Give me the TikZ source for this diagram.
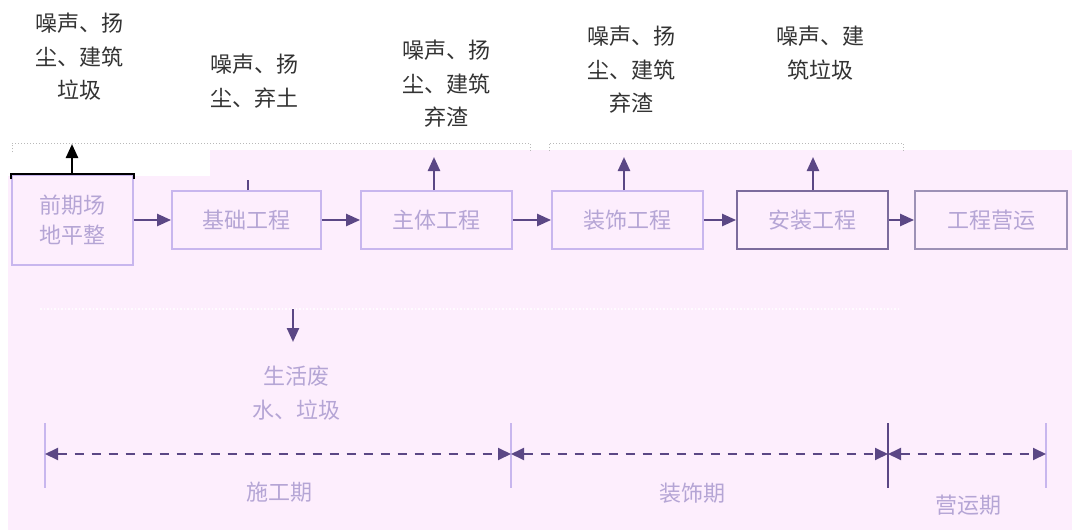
\documentclass[tikz,border=0pt]{standalone}
\usepackage{fontspec}
\newfontfamily\cjk{Noto Sans CJK SC}
\usetikzlibrary{arrows.meta}
\definecolor{bgpink}{HTML}{FDEEFD}
\definecolor{boxline}{HTML}{C8B6EE}
\definecolor{boxtext}{HTML}{B5A5D5}
\definecolor{arr}{HTML}{5B4785}
\definecolor{toptext}{HTML}{333333}
\tikzset{
  procbox/.style={draw=boxline, line width=1.8pt, fill=bgpink, text=boxtext,
    font=\cjk\fontsize{22}{30}\selectfont, align=center, inner sep=0pt, minimum height=58pt},
  flow/.style={draw=arr, line width=2.4pt, -{Triangle[length=14pt,width=12pt]}},
  emis/.style={text=toptext, font=\cjk\fontsize{22}{33.5}\selectfont, align=center, inner sep=0pt},
  periodlbl/.style={text=boxtext, font=\cjk\fontsize{22}{30}\selectfont, inner sep=0pt},
  bracketline/.style={draw=gray!55, dotted, line width=1pt},
  span/.style={draw=arr, line width=1.9pt, dash pattern=on 9pt off 8pt,
    {Triangle[length=13pt,width=12pt]}-{Triangle[length=13pt,width=12pt]}},
  tick/.style={line width=1.8pt}
}
\begin{document}
\begin{tikzpicture}[x=1pt,y=-1pt]
\useasboundingbox (0,0) rectangle (1072,530);
\fill[white] (0,0) rectangle (1072,530);
\fill[bgpink] (8,176) -- (210,176) -- (210,150) -- (1072,150) -- (1072,530) -- (8,530) -- cycle;

% top dotted brackets
\draw[bracketline] (12,152) -- (12,143) -- (530,143) -- (530,152);
\draw[bracketline] (549,151) -- (549,143) -- (903,143) -- (903,151);
% faint lower dotted line
\draw[draw=white!75!bgpink, dotted, line width=1.5pt] (40,309) -- (900,309);

% process boxes
\node[procbox, minimum width=121pt, minimum height=90pt] (b1) at (72.5,220) {前期场\\地平整};
\node[procbox, minimum width=149pt] (b2) at (246.5,220) {基础工程};
\node[procbox, minimum width=151pt] (b3) at (436.5,220) {主体工程};
\node[procbox, minimum width=151pt] (b4) at (627.5,220) {装饰工程};
\node[procbox, minimum width=151pt, draw=arr!80] (b5) at (812.5,220) {安装工程};
\node[procbox, minimum width=152pt, draw=arr!60] (b6) at (991,220) {工程营运};

% black top edge of first box
\draw[black, line width=2pt] ([yshift=-5pt]b1.north west) -- (b1.north west) -- (b1.north east) -- ([yshift=-5pt]b1.north east);

% flow arrows
\draw[flow] (b1.east) -- (b2.west);
\draw[flow] (b2.east) -- (b3.west);
\draw[flow] (b3.east) -- (b4.west);
\draw[flow] (b4.east) -- (b5.west);
\draw[flow] (b5.east) -- (b6.west);

% emission arrows
\coordinate (u1) at (72,144);
\coordinate (u2) at (248,180);
\coordinate (u3) at (434,157);
\coordinate (u4) at (624,157);
\coordinate (u5) at (813,157);
\draw[flow, draw=black] (b1.north -| u1) -- (u1);
\draw[draw=arr, line width=1.6pt] (b2.north -| u2) -- (u2);
\draw[flow] (b3.north -| u3) -- (u3);
\draw[flow] (b4.north -| u4) -- (u4);
\draw[flow] (b5.north -| u5) -- (u5);

% emission texts
\node[emis] (e1) at (79,57) {噪声、扬\\尘、建筑\\垃圾};
\node[emis] (e2) at (254,81) {噪声、扬\\尘、弃土};
\node[emis] (e3) at (446,84) {噪声、扬\\尘、建筑\\弃渣};
\node[emis] (e4) at (631,70) {噪声、扬\\尘、建筑\\弃渣};
\node[emis] (e5) at (820,53) {噪声、建\\筑垃圾};

% down arrow and waste text
\coordinate (d1) at (293,309);
\coordinate (d2) at (293,342);
\draw[flow] (d1) -- (d2);
\node[emis, text=boxtext] (w) at (296,393) {生活废\\水、垃圾};

% timeline ticks
\coordinate (t1) at (45,454);
\coordinate (t2) at (511,454);
\coordinate (t3) at (888,454);
\coordinate (t4) at (1046,454);
\draw[tick, boxline] (45,423) -- (45,488);
\draw[tick, boxline] (511,423) -- (511,488);
\draw[tick, arr] (888,423) -- (888,488);
\draw[tick, boxline] (1046,423) -- (1046,488);
\draw[span] (t1) -- (t2);
\draw[span] (t2) -- (t3);
\draw[span] (t3) -- (t4);

% period labels
\node[periodlbl] (p1) at (279,492) {施工期};
\node[periodlbl] (p2) at (692,493) {装饰期};
\node[periodlbl] (p3) at (968,505) {营运期};
\end{tikzpicture}
\end{document}
